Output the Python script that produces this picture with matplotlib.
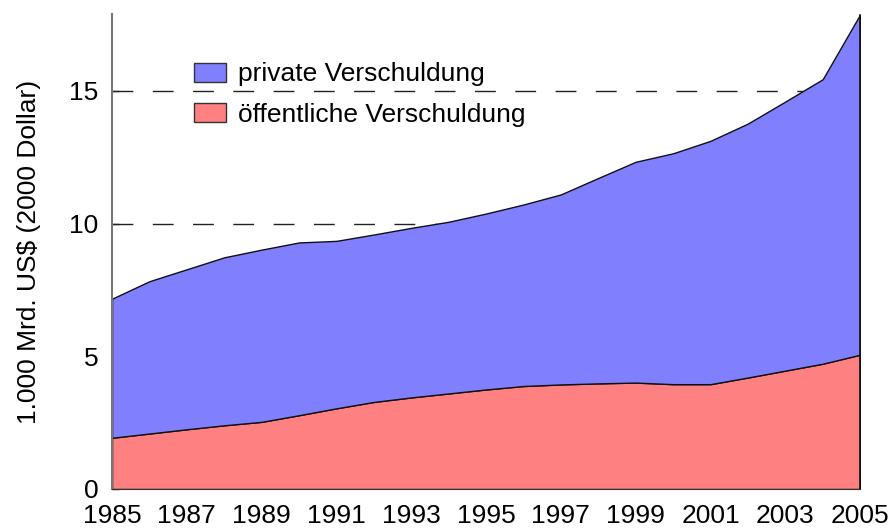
import matplotlib
matplotlib.use("Agg")
import matplotlib.pyplot as plt
from matplotlib.patches import Patch

years = list(range(1985, 2006))
public_debt = [1.93, 2.09, 2.25, 2.40, 2.53, 2.78, 3.04, 3.28, 3.45, 3.60, 3.75,
               3.88, 3.94, 3.98, 4.01, 3.95, 3.95, 4.20, 4.46, 4.72, 5.06]
total_debt = [7.17, 7.83, 8.28, 8.73, 9.02, 9.29, 9.35, 9.59, 9.84, 10.07, 10.38,
              10.72, 11.10, 11.72, 12.33, 12.65, 13.12, 13.77, 14.60, 15.44, 17.88]
private_debt = [t - p for t, p in zip(total_debt, public_debt)]

yticks = [0, 5, 10, 15]
xticks = list(range(1985, 2006, 2))
labels = ["private Verschuldung", "öffentliche Verschuldung"]
c_priv = "#8080FF"
c_pub = "#FF8080"

plt.rcParams['font.family'] = ['Liberation Sans', 'DejaVu Sans']
fs = 19

fig = plt.figure(figsize=(8.92, 5.28), dpi=100)
ax = fig.add_axes([0.1256, 0.0739, 0.8386, 0.8996])

for yv in [10, 15]:
    ax.axhline(yv, color="#222222", lw=1.0, dashes=(15, 14), zorder=0.5)

polys = ax.stackplot(years, public_debt, private_debt,
                     colors=[c_pub, c_priv], edgecolor="#111111", linewidth=1.0, zorder=2)
ax.plot([years[-1], years[-1]], [0, total_debt[-1]], color="#111111", lw=1.2, zorder=3)

ax.set_xlim(1985, 2005)
ax.set_ylim(0, 17.9)
ax.set_xticks(xticks)
ax.set_yticks(yticks)
ax.tick_params(axis='x', length=0, pad=11, labelsize=fs)
ax.tick_params(axis='y', direction='in', length=5, width=1, color="#222222", pad=10, labelsize=fs)
ax.spines['top'].set_visible(False)
ax.spines['right'].set_visible(False)
ax.spines['left'].set_color("#777777")
ax.spines['left'].set_linewidth(1.5)
ax.spines['bottom'].set_color("#333333")
ax.set_ylabel("1.000 Mrd. US$ (2000 Dollar)", fontsize=fs, labelpad=20)

handles = [Patch(facecolor=c_priv, edgecolor="#333333", lw=1.0),
           Patch(facecolor=c_pub, edgecolor="#333333", lw=1.0)]
ax.legend(handles, labels, loc="upper left", bbox_to_anchor=(0.078, 0.948),
          frameon=False, fontsize=fs, handlelength=1.2, handleheight=0.75,
          handletextpad=0.45, labelspacing=0.62)

fig.savefig("out.png", dpi=100)
